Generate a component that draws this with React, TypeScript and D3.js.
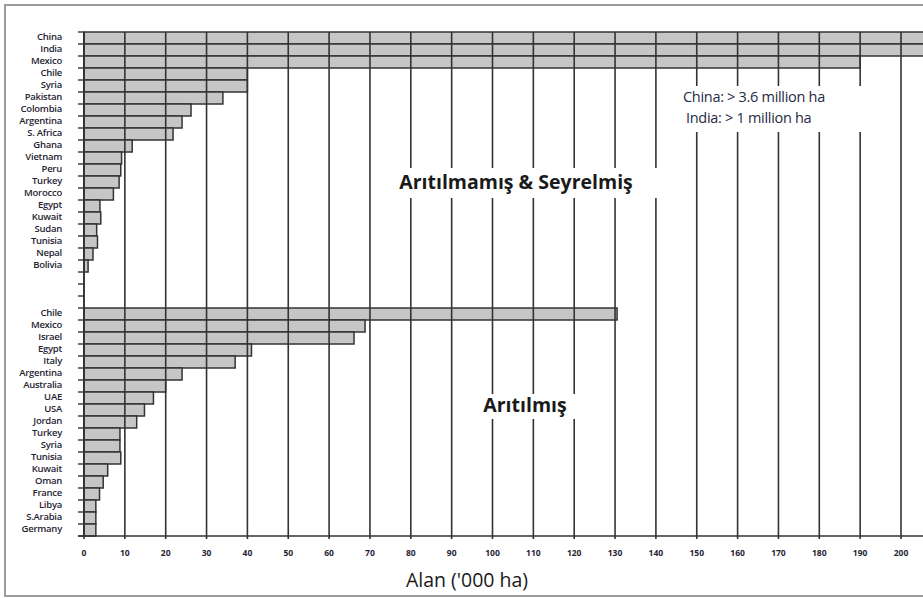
import React from "react";
import * as d3 from "d3";

const untreatedCountries = ["China", "India", "Mexico", "Chile", "Syria", "Pakistan", "Colombia", "Argentina", "S. Africa", "Ghana", "Vietnam", "Peru", "Turkey", "Morocco", "Egypt", "Kuwait", "Sudan", "Tunisia", "Nepal", "Bolivia"];
const untreatedValues = [3600, 1000, 190, 40, 40, 34, 26.2, 24, 21.8, 11.8, 9.2, 9, 8.6, 7.2, 3.9, 4.1, 3.1, 3.3, 2.2, 1];
const treatedCountries = ["Chile", "Mexico", "Israel", "Egypt", "Italy", "Argentina", "Australia", "UAE", "USA", "Jordan", "Turkey", "Syria", "Tunisia", "Kuwait", "Oman", "France", "Libya", "S.Arabia", "Germany"];
const treatedValues = [130.5, 68.8, 66.1, 41, 37, 24, 20, 17, 14.8, 12.9, 8.8, 8.8, 9, 5.8, 4.7, 3.8, 2.9, 2.9, 2.9];
const xTicks = [0, 10, 20, 30, 40, 50, 60, 70, 80, 90, 100, 110, 120, 130, 140, 150, 160, 170, 180, 190, 200];
const gapRows = 3;
const untreatedTitle = "Arıtılmamış & Seyrelmiş";
const treatedTitle = "Arıtılmış";
const noteLines = ["China: > 3.6 million ha", "India: > 1 million ha"];
const axisTitle = "Alan ('000 ha)";

type Row = { id: string; label: string; value: number | null };

export default function App() {
  const W = 923, H = 598;
  const left = 84, top = 32, bottom = 536, xMaxPx = 901;

  const rows: Row[] = [
    ...untreatedCountries.map((c, i) => ({ id: "u" + i, label: c, value: untreatedValues[i] })),
    ...d3.range(gapRows).map((i) => ({ id: "g" + i, label: "", value: null })),
    ...treatedCountries.map((c, i) => ({ id: "t" + i, label: c, value: treatedValues[i] })),
  ];

  const x = d3.scaleLinear().domain([0, 200]).range([left, xMaxPx]);
  const y = d3.scaleBand<string>().domain(rows.map((r) => r.id)).range([top, bottom]).padding(0);
  const bw = y.bandwidth();

  const lineColor = "#333";
  const labelFont = "'Open Sans', 'DejaVu Sans', sans-serif";

  const boundaries = d3.range(rows.length + 1).map((i) => top + i * bw);

  return (
    <svg width={W} height={H} style={{ position: "absolute", left: 0, top: 0, background: "#fff" }}>
      <defs>
        <clipPath id="plotclip">
          <rect x={0} y={0} width={W} height={H} />
        </clipPath>
      </defs>
      {/* frame */}
      <rect x={5} y={5} width={W + 10} height={591} fill="none" stroke="#9c9c9c" strokeWidth={2} />

      {/* bars */}
      <g clipPath="url(#plotclip)">
        {rows.filter((r) => r.value !== null).map((r) => (
          <rect
            key={r.id}
            x={x(0)}
            y={y(r.id)!}
            width={Math.min(x(r.value as number), W + 20) - x(0)}
            height={bw}
            fill="#c6c6c6"
            stroke={lineColor}
            strokeWidth={1.5}
          />
        ))}
      </g>

      {/* vertical gridlines */}
      {xTicks.map((t) => (
        <line key={"g" + t} x1={x(t)} x2={x(t)} y1={top} y2={bottom + 3} stroke={lineColor} strokeWidth={1.6} />
      ))}

      {/* y axis ticks */}
      {boundaries.map((b, i) => (
        <line key={"yt" + i} x1={left - 6} x2={left} y1={b} y2={b} stroke={lineColor} strokeWidth={1.4} />
      ))}
      <line x1={left} x2={left} y1={top} y2={bottom} stroke={lineColor} strokeWidth={1.6} />
      <line x1={left - 6} x2={W} y1={bottom} y2={bottom} stroke={lineColor} strokeWidth={1.6} />

      {/* white backgrounds behind texts */}
      <rect x={670} y={86} width={212} height={46} fill="#fff" />
      <rect x={372} y={168} width={285} height={30} fill="#fff" />
      <rect x={463} y={394} width={118} height={25} fill="#fff" />

      {/* country labels */}
      {rows.filter((r) => r.label).map((r) => (
        <text
          key={"l" + r.id}
          x={62}
          y={y(r.id)! + bw / 2 - 1.5}
          dy="0.35em"
          textAnchor="end"
          fontFamily={labelFont}
          fontWeight={600}
          fontSize={9.5}
          fill="#1f2433"
          style={{ letterSpacing: "-0.25px" }}
        >
          {r.label}
        </text>
      ))}

      {/* x tick labels */}
      {xTicks.map((t) => (
        <text key={"xl" + t} x={x(t)} y={553} dy="0.35em" textAnchor="middle" fontFamily={labelFont} fontWeight={700} fontSize={8.5} fill="#1f2433">
          {t}
        </text>
      ))}

      {/* titles */}
      <text x={516} y={182} dy="0.35em" textAnchor="middle" fontFamily={labelFont} fontWeight={700} fontSize={19.5} fill="#1a1a1a">
        {untreatedTitle}
      </text>
      <text x={525} y={405} dy="0.35em" textAnchor="middle" fontFamily={labelFont} fontWeight={700} fontSize={19.5} fill="#1a1a1a">
        {treatedTitle}
      </text>

      {noteLines.map((s, i) => (
        <text key={"n" + i} x={i === 0 ? 683 : 686} y={97 + i * 21} dy="0.35em" fontFamily={labelFont} fontSize={14.5} fill="#1f2a44" style={{ letterSpacing: "-0.3px" }}>
          {s}
        </text>
      ))}

      <text x={467} y={580} dy="0.35em" textAnchor="middle" fontFamily={labelFont} fontSize={19.5} fill="#1a1a1a">
        {axisTitle}
      </text>
    </svg>
  );
}
